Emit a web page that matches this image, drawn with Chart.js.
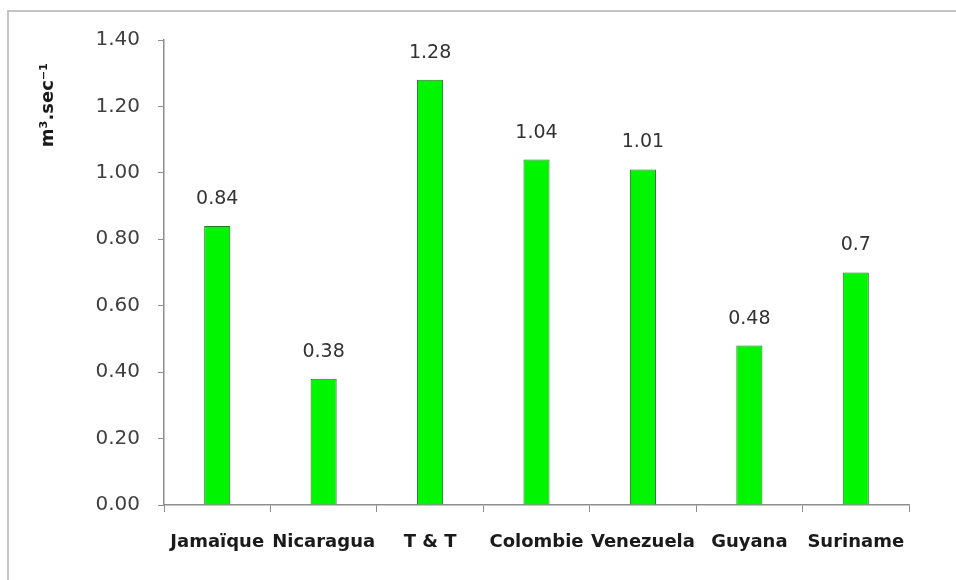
<!DOCTYPE html>
<html>
<head>
<meta charset="utf-8">
<script src="https://cdn.jsdelivr.net/npm/chart.js@4/dist/chart.umd.min.js"></script>
<style>
  html, body { margin: 0; padding: 0; background: #ffffff; }
  #wrap { width: 956px; height: 580px; position: relative; }
</style>
</head>
<body>
<div id="wrap"><canvas id="c" width="956" height="580"></canvas></div>
<script>
// Discharge per country (m3/s)
const countries = ['Jamaïque', 'Nicaragua', 'T & T', 'Colombie', 'Venezuela', 'Guyana', 'Suriname'];
const discharge = [0.84, 0.38, 1.28, 1.04, 1.01, 0.48, 0.7];
const valueLabels = ['0.84', '0.38', '1.28', '1.04', '1.01', '0.48', '0.7'];
const yTitle = 'm³.sec⁻¹';

const axisGray = '#8e8e8e';

// Light frame along the top and left edges
const framePlugin = {
  id: 'frame',
  beforeDraw(chart) {
    const ctx = chart.ctx;
    ctx.save();
    ctx.strokeStyle = '#c4c4c4';
    ctx.lineWidth = 2;
    ctx.beginPath();
    ctx.moveTo(956, 11);
    ctx.lineTo(8, 11);
    ctx.lineTo(8, 580);
    ctx.stroke();
    ctx.restore();
  }
};

// Value labels above each bar and the rotated unit title
const labelPlugin = {
  id: 'valueLabels',
  afterDatasetsDraw(chart) {
    const ctx = chart.ctx;
    const meta = chart.getDatasetMeta(0);
    ctx.save();
    ctx.font = '19px "DejaVu Sans"';
    ctx.fillStyle = '#333333';
    ctx.textAlign = 'center';
    ctx.textBaseline = 'middle';
    meta.data.forEach((bar, i) => {
      ctx.fillText(valueLabels[i], bar.x, bar.y - 27);
    });
    ctx.restore();

    ctx.save();
    ctx.translate(48, 105);
    ctx.rotate(-Math.PI / 2);
    ctx.font = 'bold 18px "DejaVu Sans"';
    ctx.fillStyle = '#1a1a1a';
    ctx.textAlign = 'center';
    ctx.textBaseline = 'middle';
    ctx.fillText(yTitle, 0, 0);
    ctx.restore();
  }
};

new Chart(document.getElementById('c'), {
  type: 'bar',
  data: {
    labels: countries,
    datasets: [{
      data: discharge,
      backgroundColor: '#00f500',
      borderColor: '#1f7a1f',
      borderWidth: 1,
      barPercentage: 0.245,
      categoryPercentage: 1
    }]
  },
  options: {
    responsive: false,
    animation: false,
    devicePixelRatio: 1,
    layout: { padding: { top: 40, right: 47, bottom: 0, left: 0 } },
    plugins: { legend: { display: false }, tooltip: { enabled: false } },
    scales: {
      x: {
        grid: { display: true, drawOnChartArea: false, offset: true, tickLength: 7, color: axisGray },
        border: { display: true, color: axisGray, width: 1.5 },
        ticks: {
          font: { family: 'DejaVu Sans', size: 18, weight: 'bold' },
          color: '#1a1a1a',
          padding: 20,
          maxRotation: 0,
          autoSkip: false
        },
        afterFit(scale) { scale.height = 75; }
      },
      y: {
        min: 0,
        max: 1.4,
        grid: { display: true, drawOnChartArea: false, tickLength: 6, color: axisGray },
        border: { display: true, color: axisGray, width: 1.5 },
        ticks: {
          stepSize: 0.2,
          font: { family: 'DejaVu Sans', size: 20 },
          color: '#404040',
          padding: 18,
          callback: (v) => Number(v).toFixed(2)
        },
        afterFit(scale) { scale.width = 164; }
      }
    }
  },
  plugins: [framePlugin, labelPlugin]
});
</script>
</body>
</html>
